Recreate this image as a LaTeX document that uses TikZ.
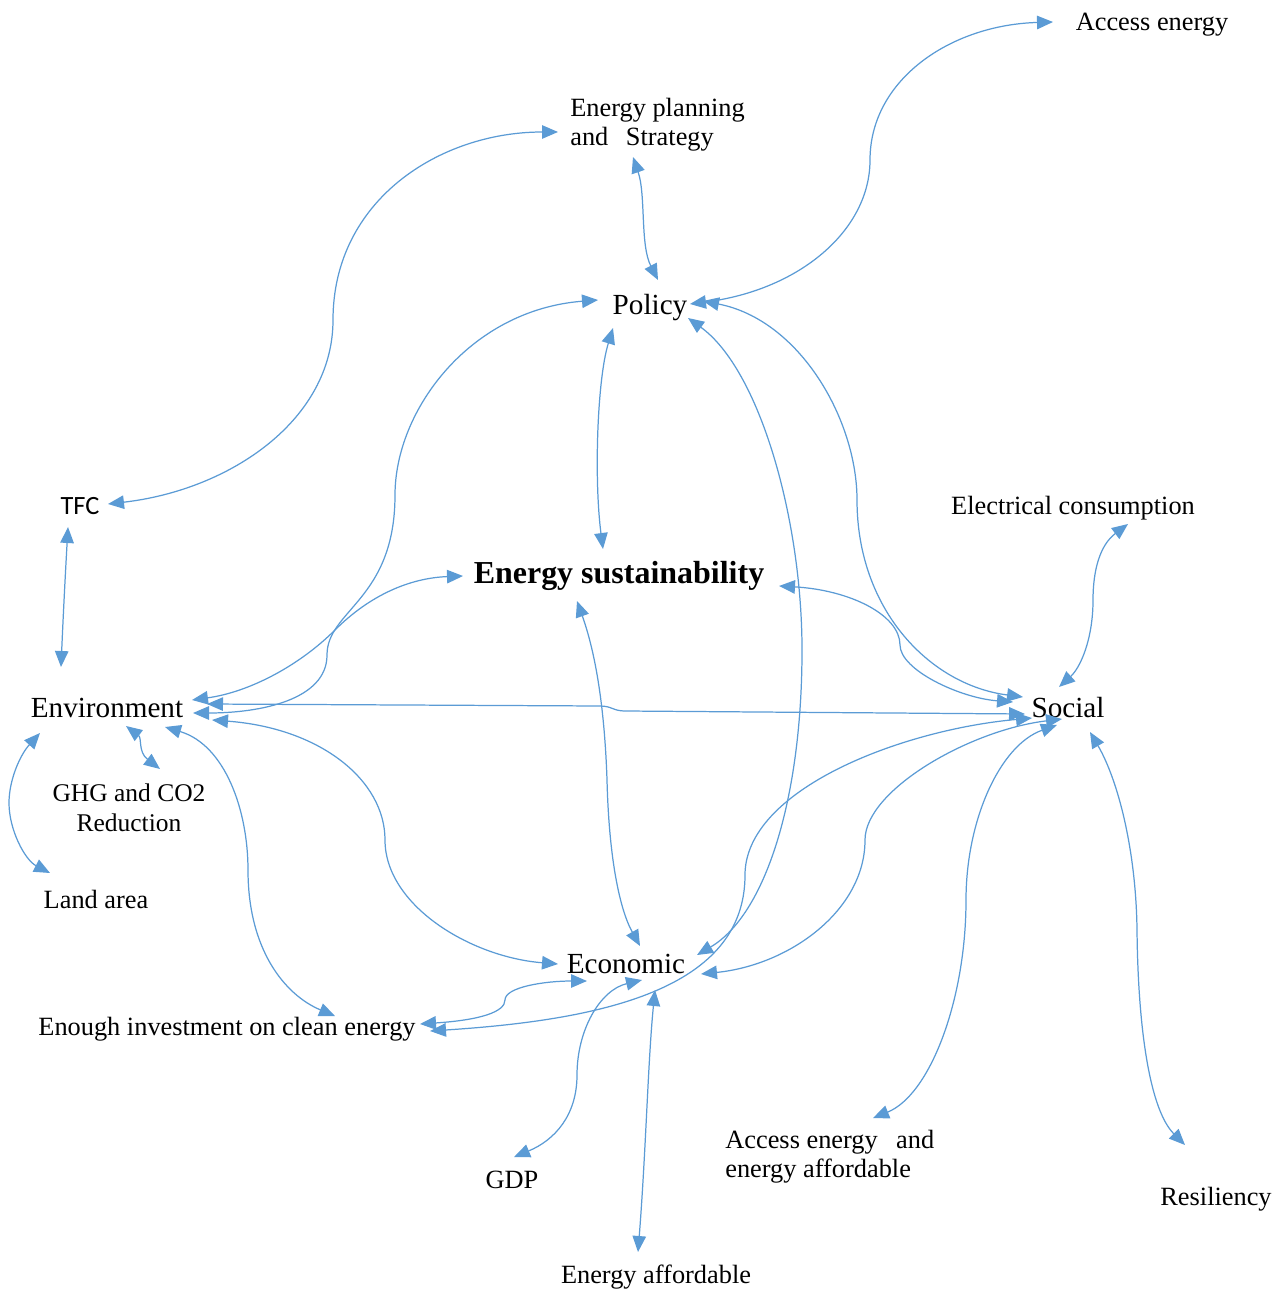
\documentclass[tikz,border=0pt]{standalone}
\usepackage{fontspec}
\setmainfont{Liberation Serif}
\newfontfamily\tfcfont{Carlito}
\usetikzlibrary{arrows.meta}
\definecolor{lineblue}{HTML}{5B9BD5}
\tikzset{
  link/.style={draw=lineblue, line width=0.7pt,
    {Triangle[length=0.32cm,width=0.27cm]}-{Triangle[length=0.32cm,width=0.27cm]}},
  mainlbl/.style={inner sep=0pt, anchor=base, font=\fontsize{16.6}{20}\selectfont},
  smalllbl/.style={inner sep=0pt, anchor=base, font=\fontsize{15}{17}\selectfont},
  multilbl/.style={inner sep=0pt, align=left, anchor=west, font=\fontsize{15}{16.5}\selectfont},
}
\begin{document}
\begin{tikzpicture}[x=0.02cm,y=-0.02cm]
\useasboundingbox (0,0) rectangle (1286,1293);
% nodes
\node[smalllbl] (acc) at (1152,31) {Access energy};
\node[multilbl] (plan) at (570,125) {Energy planning\\and\hspace{10pt}Strategy};
\node[mainlbl] (pol) at (650,315) {Policy};
\node[inner sep=0pt, anchor=base, font=\tfcfont\fontsize{15}{17}\selectfont] (tfc) at (80,514) {TFC};
\node[smalllbl] (elec) at (1073,514) {Electrical consumption};
\node[inner sep=0pt, anchor=base, font=\fontsize{18.2}{22}\selectfont\bfseries] (es) at (619,583) {Energy sustainability};
\node[mainlbl] (env) at (107,717) {Environment};
\node[mainlbl] (soc) at (1068,717) {Social};
\node[inner sep=0pt, align=center, font=\fontsize{14.5}{17}\selectfont] (ghg) at (129,808) {GHG and CO2\\Reduction};
\node[smalllbl] (land) at (96,908) {Land area};
\node[mainlbl] (eco) at (626,973) {Economic};
\node[smalllbl] (inv) at (227,1035) {Enough investment on clean energy};
\node[smalllbl] (gdp) at (512,1188) {GDP};
\node[multilbl] (aea) at (725,1157) {Access energy\hspace{10.5pt}and\\energy affordable};
\node[smalllbl] (res) at (1216,1205) {Resiliency};
\node[smalllbl] (eaf) at (656,1283) {Energy affordable};
% connectors
\draw[link] ([shift={(28,-10)}]tfc.base) .. controls (230,490) and (333,420) .. (333,320) .. controls (333,200) and (440,132) .. ([shift={(-12,7)}]plan.west);
\draw[link] ([shift={(63,32)}]plan.west) .. controls (646,195) and (640,245) .. ([shift={(8,-35)}]pol.base);
\draw[link] ([shift={(40,-11)}]pol.base) .. controls (800,290) and (870,230) .. (870,160) .. controls (870,80) and (950,25) .. ([shift={(-99,-9)}]acc.base);
\draw[link] ([shift={(-37,13)}]pol.base) .. controls (597,380) and (594,480) .. ([shift={(-16,-34)}]es.base);
\draw[link] ([shift={(-52,-15)}]pol.base) .. controls (470,310) and (395,410) .. (395,495) .. controls (395,600) and (327,610) .. (327,655) .. controls (327,700) and (260,713) .. ([shift={(86,-4)}]env.base);
\draw[link] ([shift={(85,-17)}]env.base) .. controls (250,692) and (300,665) .. (335,630) .. controls (370,595) and (410,578) .. ([shift={(-156,-7)}]es.base);
\draw[link] ([shift={(100,-13)}]env.base) -- (600,706) .. controls (612,706) and (613,711) .. (625,711) -- ([shift={(-43,-3)}]soc.base);
\draw[link] ([shift={(105,3)}]env.base) .. controls (320,728) and (385,780) .. (385,840) .. controls (385,905) and (470,957) .. ([shift={(-68,-9)}]eco.base);
\draw[link] ([shift={(58,10)}]env.base) .. controls (225,745) and (248,810) .. (248,870) .. controls (248,950) and (285,995) .. ([shift={(108,-19)}]inv.base);
\draw[link] ([shift={(19,9)}]env.base) .. controls (142,738) and (138,752) .. ([shift={(31,-39)}]ghg.center);
\draw[link] ([shift={(-67,16)}]env.base) .. controls (20,755) and (9,780) .. (9,803) .. controls (9,830) and (25,860) .. ([shift={(-46,-35)}]land.base);
\draw[link] ([shift={(-12,13)}]tfc.base) .. controls (65,580) and (63,620) .. ([shift={(-46,-50)}]env.base);
\draw[link] ([shift={(53,-14)}]pol.base) .. controls (800,320) and (857,420) .. (857,500) .. controls (857,610) and (930,685) .. ([shift={(-45,-20)}]soc.base);
\draw[link] ([shift={(160,3)}]es.base) .. controls (850,590) and (900,615) .. (900,645) .. controls (900,670) and (960,698) .. ([shift={(-55,-15)}]soc.base);
\draw[link] ([shift={(38,3)}]pol.base) .. controls (760,370) and (802,520) .. (802,650) .. controls (802,800) and (765,915) .. ([shift={(71,-18)}]eco.base);
\draw[link] ([shift={(-6,2)}]soc.base) .. controls (970,730) and (865,790) .. (865,840) .. controls (865,910) and (790,965) .. ([shift={(75,1)}]eco.base);
\draw[link] ([shift={(203,-4)}]inv.base) .. controls (600,1020) and (745,990) .. (745,875) .. controls (745,790) and (900,730) .. ([shift={(-36,1)}]soc.base);
\draw[link] ([shift={(193,-11)}]inv.base) .. controls (480,1020) and (505,1012) .. (505,1000) .. controls (505,987) and (545,981) .. ([shift={(-39,8)}]eco.base);
\draw[link] ([shift={(16,7)}]eco.base) .. controls (600,990) and (577,1030) .. (577,1075) .. controls (577,1115) and (555,1140) .. ([shift={(2,-31)}]gdp.base);
\draw[link] ([shift={(29,17)}]eco.base) .. controls (648,1060) and (646,1150) .. ([shift={(-18,-31)}]eaf.base);
\draw[link] ([shift={(-42,18)}]es.base) .. controls (598,660) and (605,720) .. (607,780) .. controls (609,860) and (620,910) .. ([shift={(14,-27)}]eco.base);
\draw[link] ([shift={(-9,-30)}]soc.base) .. controls (1080,668) and (1093,640) .. (1093,600) .. controls (1093,570) and (1100,545) .. ([shift={(55,10)}]elec.base);
\draw[link] ([shift={(-11,8)}]soc.base) .. controls (1000,745) and (966,820) .. (966,900) .. controls (966,1000) and (930,1095) .. ([shift={(148,-39)}]aea.west);
\draw[link] ([shift={(22,15)}]soc.base) .. controls (1118,780) and (1136,850) .. (1137,930) .. controls (1138,1030) and (1150,1110) .. ([shift={(-31,-60)}]res.base);
\end{tikzpicture}
\end{document}
